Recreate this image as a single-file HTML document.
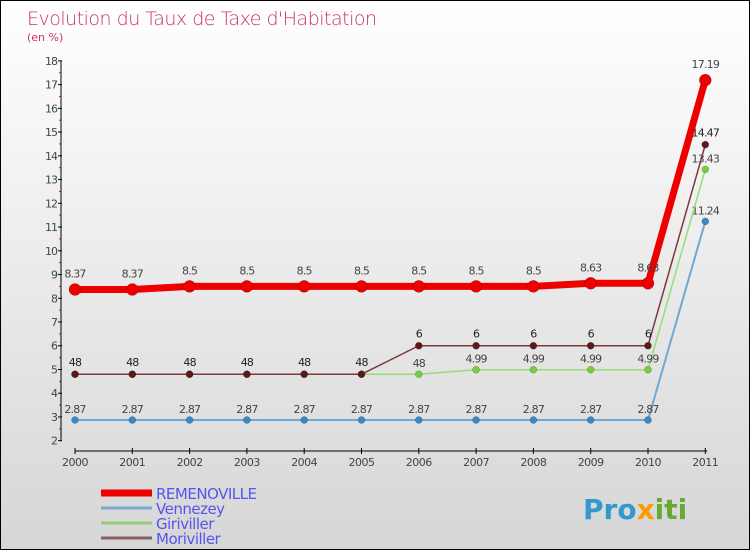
<!DOCTYPE html>
<html><head><meta charset="utf-8"><style>
body{margin:0}
#c{width:750px;height:550px;position:relative;box-sizing:border-box;border:1px solid #000;background:linear-gradient(#fff,#d6d6d6);font-family:"DejaVu Sans","Liberation Sans",sans-serif;overflow:hidden}
</style></head><body>
<div id="c">
<svg id="s" width="748" height="548" xmlns="http://www.w3.org/2000/svg">
<text x="26" y="24" font-size="19" fill="#cc3366" font-family="DejaVu Sans" font-weight="200" style="letter-spacing:-0.5px">Evolution du Taux de Taxe d'Habitation</text>
<text x="26" y="40" font-size="11" fill="#cc3366">(en %)</text>
<g id="axes"></g><g id="series"></g><g id="legend"></g>
<text x="582" y="518" font-size="28" font-weight="bold"><tspan fill="#3399cc">Pro</tspan><tspan fill="#ff9900">x</tspan><tspan fill="#66aa33">iti</tspan></text>
</svg></div>
<script>
const years=[2000,2001,2002,2003,2004,2005,2006,2007,2008,2009,2010,2011];
const yTicks=[2,3,4,5,6,7,8,9,10,11,12,13,14,15,16,17,18];
const remenoville=[8.37,8.37,8.5,8.5,8.5,8.5,8.5,8.5,8.5,8.63,8.63,17.19];
const vennezey=[2.87,2.87,2.87,2.87,2.87,2.87,2.87,2.87,2.87,2.87,2.87,11.24];
const giriviller=[4.8,4.8,4.8,4.8,4.8,4.8,4.8,4.99,4.99,4.99,4.99,13.43];
const moriviller=[4.8,4.8,4.8,4.8,4.8,4.8,6,6,6,6,6,14.47];
const ns="http://www.w3.org/2000/svg";
const X=i=>74+i*57.3;
const Y=v=>439.7-(v-2)*23.74;
function mk(t,a,p,txt){const e=document.createElementNS(ns,t);for(const k in a)e.setAttribute(k,a[k]);if(txt!==undefined)e.textContent=txt;p.appendChild(e);return e;}
const ax=document.getElementById('axes');
let e=mk('line',{x1:60,y1:Y(18),x2:60,y2:Y(2),stroke:'#000'},ax);

yTicks.forEach(v=>{mk('line',{x1:57,x2:61,y1:Y(v),y2:Y(v),stroke:'#000'},ax);
 if(v<18)mk('line',{x1:58,x2:60,y1:Y(v+0.5),y2:Y(v+0.5),stroke:'#e00'},ax);
 e=mk('text',{x:56,y:Y(v)+4,'font-size':11,fill:'#444','text-anchor':'end','letter-spacing':'-1'},ax,String(v));
 });
e=mk('line',{x1:74,y1:450,x2:X(11)+2,y2:450,stroke:'#000'},ax);

years.forEach((y,i)=>{mk('line',{x1:X(i),x2:X(i),y1:447,y2:453,stroke:'#000'},ax);
 e=mk('text',{x:X(i),y:465,'font-size':11,fill:'#444','text-anchor':'middle','letter-spacing':'-0.5'},ax,String(y));
 });
const sg=document.getElementById('series');
function fmt(v){return String(v).replace('.', v===4.8?'':'.');}
function series(name,data,color,w,r,dot,labelFrom,labelColor,dy){
 const g=mk('g',{},sg);
 mk('polyline',{points:data.map((v,i)=>X(i)+','+Y(v)).join(' '),fill:'none',stroke:color,'stroke-width':w},g);
 data.forEach((v,i)=>{e=mk('circle',{cx:X(i),cy:Y(v),r:r,fill:dot,stroke:'rgba(0,0,0,0.3)','stroke-width':0.5},g);
  
  if(i>=labelFrom){e=mk('text',{x:X(i),y:Y(v)-dy,'font-size':11,fill:labelColor,'text-anchor':'middle','letter-spacing':'-0.8'},g,fmt(v));
  }});
}
series('vennezey',vennezey,'#6fa8d0',2,3.5,'#3a88c4',0,'#444',7);
series('giriviller',giriviller,'#99dd77',1.5,3.5,'#77cc44',6,'#444',7);
series('moriviller',moriviller,'#7a3a3a',1.5,3.5,'#5a1a1a',0,'#222',8);
series('remenoville',remenoville,'#ee0000',7,6,'#ee0000',0,'#444',12);
const lg=document.getElementById('legend');
const names=['REMENOVILLE','Vennezey','Giriviller','Moriviller'],cols=['#ee0000','#77aacc','#99cc77','#8a6060'],ws=[7,3,3,3];
names.forEach((n,i)=>{const y=492+i*15;
 e=mk('line',{x1:100,x2:151,y1:y,y2:y,stroke:cols[i],'stroke-width':ws[i]},lg);
 
 e=mk('text',{x:155,y:y+6,'font-size':15,fill:'#5555ee','letter-spacing':'-0.5'},lg,n);
 });
</script></body></html>
